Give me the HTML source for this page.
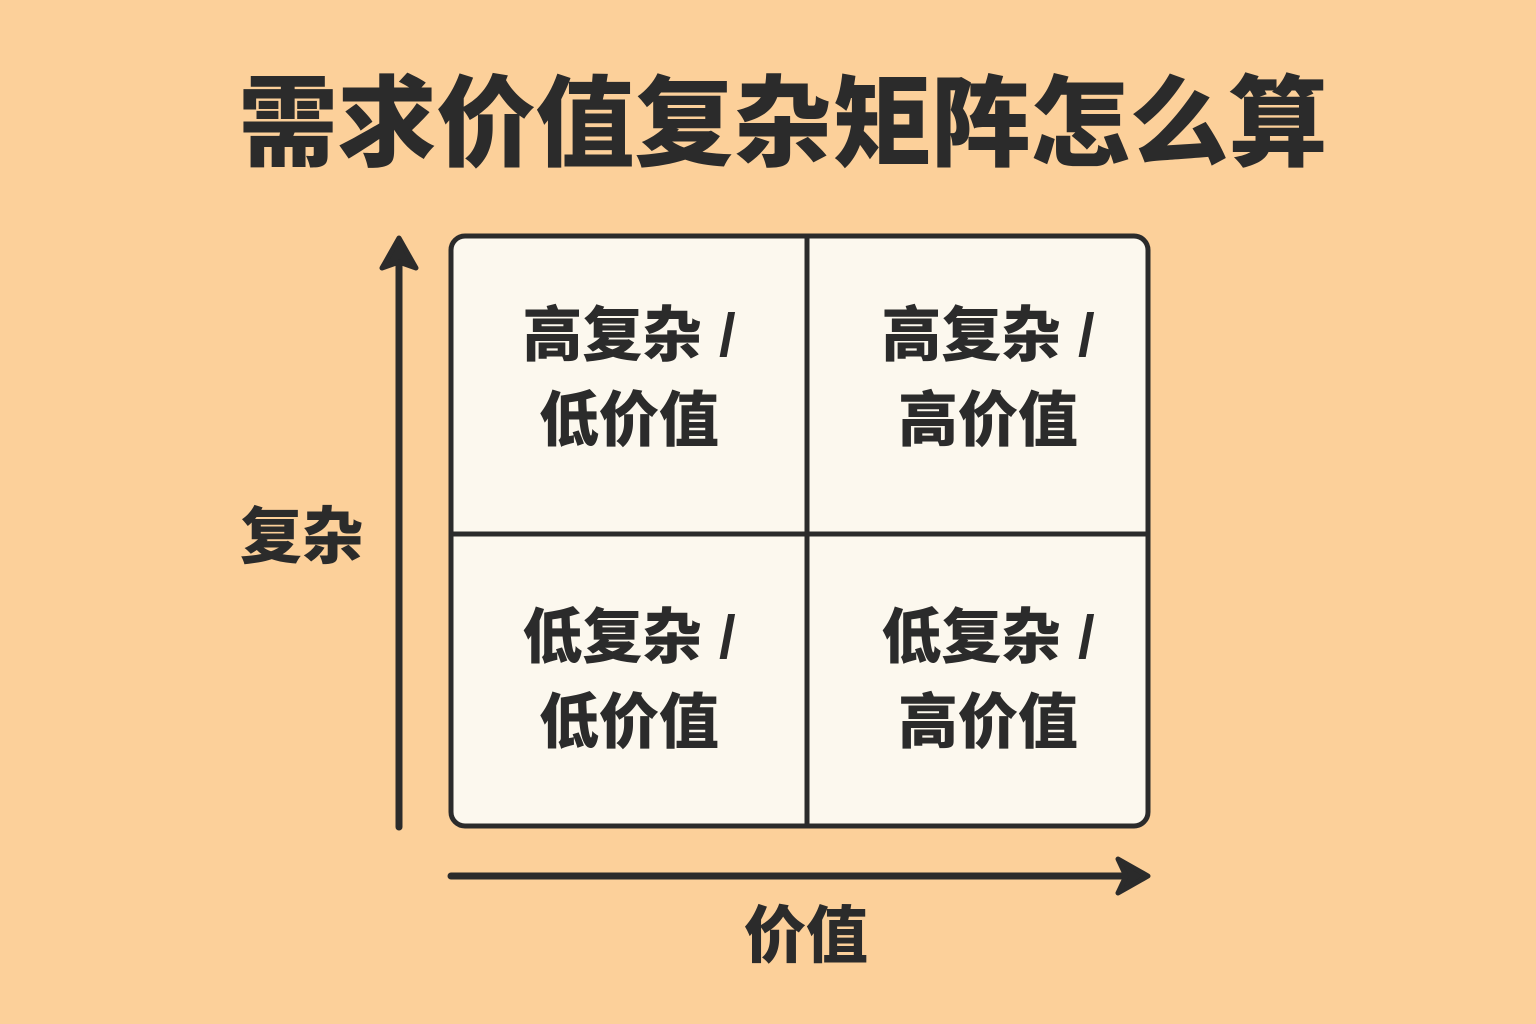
<!DOCTYPE html>
<html><head><meta charset="utf-8"><style>
body{margin:0;width:1536px;height:1024px;background:#FCD09A;overflow:hidden;position:relative;font-family:"Liberation Sans","Noto Sans CJK SC",sans-serif;color:#2b2b2b;}
.t{position:absolute;font-weight:900;white-space:nowrap;text-align:center;}
</style></head><body>
<div class="t" style="left:0;width:1566px;top:68px;font-size:99px;line-height:112px;letter-spacing:0px;">需求价值复杂矩阵怎么算</div>
<svg width="1536" height="1024" style="position:absolute;left:0;top:0">
<rect x="451" y="236" width="697" height="590" rx="14" fill="#FCF8EE" stroke="#2b2b2b" stroke-width="5"/>
<line x1="807" y1="236" x2="807" y2="826" stroke="#2b2b2b" stroke-width="5"/>
<line x1="451" y1="534" x2="1148" y2="534" stroke="#2b2b2b" stroke-width="5"/>
<line x1="399" y1="827" x2="399" y2="255" stroke="#2b2b2b" stroke-width="7" stroke-linecap="round"/>
<polygon points="382,268 399,238 416,268 399,262" fill="#2b2b2b" stroke="#2b2b2b" stroke-width="5" stroke-linejoin="round"/>
<line x1="451" y1="876" x2="1135" y2="876" stroke="#2b2b2b" stroke-width="7" stroke-linecap="round"/>
<polygon points="1118,859 1148,876 1118,893 1126,876" fill="#2b2b2b" stroke="#2b2b2b" stroke-width="5" stroke-linejoin="round"/>
</svg>
<div class="t" style="left:451px;width:356px;top:293px;font-size:60px;line-height:85px;">高复杂 /<br>低价值</div>
<div class="t" style="left:810px;width:356px;top:293px;font-size:60px;line-height:85px;">高复杂 /<br>高价值</div>
<div class="t" style="left:451px;width:356px;top:595px;font-size:60px;line-height:85px;">低复杂 /<br>低价值</div>
<div class="t" style="left:810px;width:356px;top:595px;font-size:60px;line-height:85px;">低复杂 /<br>高价值</div>
<div class="t" style="left:240px;top:503px;font-size:62px;line-height:70px;">复杂</div>
<div class="t" style="left:744px;top:902px;font-size:62px;line-height:70px;">价值</div>
</body></html>
